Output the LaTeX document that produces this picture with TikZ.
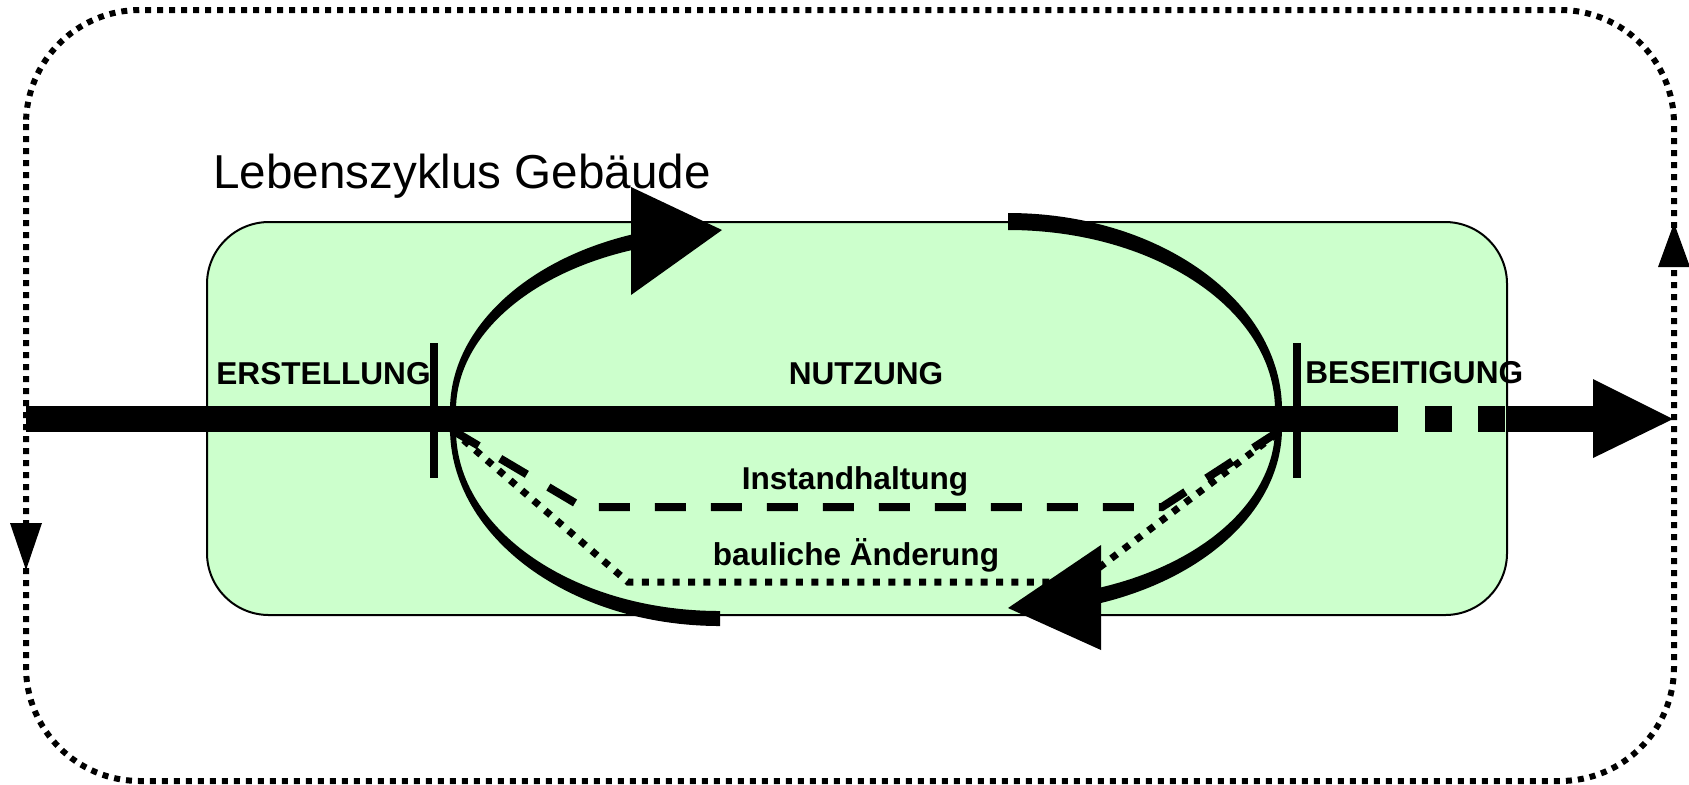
\documentclass[tikz,border=0pt]{standalone}
\usepackage{fontspec}
\usetikzlibrary{calc}
\setmainfont{Liberation Sans}
\definecolor{boxgreen}{RGB}{204,255,204}
\begin{document}
\begin{tikzpicture}[x=0.5pt,y=-0.5pt,
  lbl/.style={font=\fontsize{15.8}{18}\selectfont\bfseries, inner sep=0pt},
  ttl/.style={font=\fontsize{23.8}{28}\selectfont, inner sep=0pt},
  outerloop/.style={line width=3pt, dash pattern=on 3pt off 3pt},
  mainbar/.style={line width=13pt},
  tickmark/.style={line width=4pt},
  maintpath/.style={line width=4pt, dash pattern=on 15.5pt off 12.5pt},
  changepath/.style={line width=3.5pt, dash pattern=on 3.5pt off 4.2pt},
  headfill/.style={fill=black}]
\useasboundingbox (0,0) rectangle (1689,784);

% outer dotted loop
\draw[outerloop, rounded corners=57pt] (26,10) rectangle (1674,781);
\coordinate (lt) at (26,570);
\coordinate (rt) at (1674,223);
\fill[headfill] (lt) -- ++(-16,-47) -- ++(32,0) -- cycle;
\fill[headfill] (rt) -- ++(-16,44) -- ++(32,0) -- cycle;

% green box
\node[draw, fill=boxgreen, line width=1pt, rounded corners=31pt, minimum width=650pt, minimum height=196.5pt, inner sep=0pt] (box) at (857,418.5) {};

% title
\node[ttl, anchor=base west] (title) at (213,188) {Lebenszyklus Gebäude};

% coordinates of the life-cycle loop
\coordinate (ls) at (452,430);
\coordinate (rs) at (1287,426);
\coordinate (m1) at (582,507);
\coordinate (m2) at (1162,507);
\coordinate (b1) at (628,582);
\coordinate (b2) at (1080,582);

% Instandhaltung (dashed) and bauliche Änderung (dotted)
\draw[maintpath] (ls) -- (m1) -- (m2) -- (rs);
\draw[changepath] (ls) -- (b1) -- (b2) -- (rs);

% crescent arcs
% upper left
\fill (450,410) arc[start angle=180, end angle=255, x radius=272, y radius=186]
  -- ($(722,410)+(255:266 and 170)$) arc[start angle=255, end angle=180, x radius=266, y radius=170] -- cycle;
\fill[headfill] (631,187) -- (631,295) -- (722,230) -- cycle;
% upper right
\fill (1008,213) arc[start angle=270, end angle=360, x radius=274, y radius=197]
  -- (1275,410) arc[start angle=360, end angle=270, x radius=267, y radius=180] -- cycle;
% lower left
\fill (450,428) arc[start angle=180, end angle=90, x radius=270, y radius=198]
  -- (720,611) arc[start angle=90, end angle=180, x radius=264, y radius=181] -- cycle;
% lower right
\fill (1282,428) arc[start angle=0, end angle=75, x radius=274, y radius=186]
  -- ($(1008,428)+(75:267 and 170)$) arc[start angle=75, end angle=0, x radius=267, y radius=170] -- cycle;
\fill[headfill] (1101,545) -- (1101,650) -- (1008,608) -- cycle;

% main time line
\coordinate (a0) at (26,419);
\coordinate (a1) at (1372,419);
\coordinate (a2) at (1507,419);
\coordinate (a3) at (1595,419);
\draw[mainbar] (a0) -- (a1);
\fill (1372,406) rectangle (1398,432);
\fill (1425,406) rectangle (1452,432);
\fill (1478,406) rectangle (1505,432);
\draw[mainbar] (a2) -- (a3);
\fill[headfill] (1593,379) -- (1593,458) -- (1673,419) -- cycle;

% phase ticks
\draw[tickmark] (434,343) -- (434,478);
\draw[tickmark] (1297,343) -- (1297,478);

% labels
\node[lbl, anchor=base west] (erst) at (216,384) {ERSTELLUNG};
\node[lbl, anchor=base] (nutz) at (866,384) {NUTZUNG};
\node[lbl, anchor=base west] (bes) at (1305,383) {BESEITIGUNG};
\node[lbl, anchor=base] (inst) at (855,489) {Instandhaltung};
\node[lbl, anchor=base] (baul) at (856,565) {bauliche Änderung};
\end{tikzpicture}
\end{document}
